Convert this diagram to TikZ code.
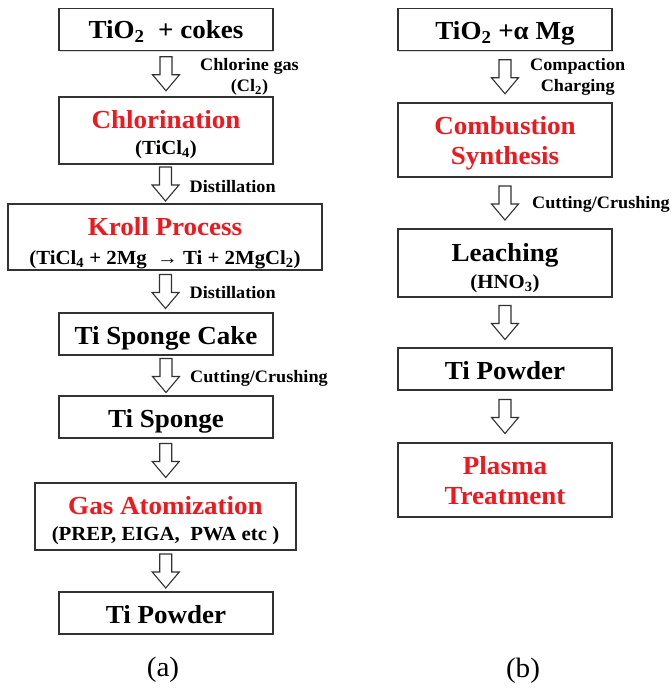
\documentclass[tikz,border=0pt]{standalone}
\usepackage{fontspec}
\setmainfont{Liberation Serif}[FakeStretch=1.04]
\usetikzlibrary{positioning,calc,shadows}

\definecolor{procred}{RGB}{238,24,30}
\definecolor{boxline}{RGB}{50,50,50}
\newcommand{\bigfs}{\fontsize{26}{30}\selectfont\bfseries}
\newcommand{\smallfs}{\fontsize{20}{26}\selectfont\bfseries}
\newcommand{\notefs}{\fontsize{17.5}{21}\selectfont\bfseries}
% two centred lines, baselines #3 apart, baseline of the box = first line
\newcommand{\twolines}[3]{\vtop{\offinterlineskip\halign{\hfil##\hfil\cr\smash{#1}\cr\noalign{\kern#3}\smash{#2}\cr}}}

\tikzset{
  procbox/.style={draw=boxline, line width=1.3pt, fill=white, minimum width=214pt, minimum height=42pt,
    inner sep=0pt, font=\bigfs, text height=20pt, text depth=0pt,
    drop shadow={shadow xshift=1.2pt, shadow yshift=-1.2pt, opacity=0.3}},
  firstbase/.style={text height=0pt, text depth=#1},
  notelbl/.style={font=\notefs, align=center, inner sep=0pt},
  blockarr/.pic={\draw[boxline, line width=1.1pt, fill=white, line join=miter]
    (-6,-17) -- (6,-17) -- (6,1) -- (13.5,1) -- (0,17) -- (-13.5,1) -- (-6,1) -- cycle;}
}

\begin{document}
\begin{tikzpicture}[x=1pt, y=-1pt]
  \useasboundingbox (0,0) rectangle (671,693);

  % (a) chlorination / Kroll route
  \node[procbox, text height=18pt] (a1) at (166,29.5) {TiO\textsubscript{2}~ + cokes};
  \node[procbox, minimum height=67pt, firstbase=4.4pt] (a2) at (166,130.5)
    {\twolines{\textcolor{procred}{Chlorination}}{\smallfs (TiCl\textsubscript{4})}{26pt}};
  \node[procbox, minimum width=314pt, minimum height=66pt, firstbase=4pt] (a3) at (165,237)
    {\twolines{\textcolor{procred}{Kroll Process}}{\smallfs (TiCl\textsubscript{4} + 2Mg~ → Ti + 2MgCl\textsubscript{2})}{29pt}};
  \node[procbox] (a4) at (166,334) {Ti Sponge Cake};
  \node[procbox] (a5) at (166,417) {Ti Sponge};
  \node[procbox, minimum width=261pt, minimum height=67pt, firstbase=5pt] (a6) at (165.5,516.5)
    {\twolines{\textcolor{procred}{Gas Atomization}}{\smallfs (PREP, EIGA,~ PWA etc )}{26pt}};
  \node[procbox] (a7) at (166,613) {Ti Powder};

  \foreach \i/\j in {1/2,2/3,3/4,4/5,5/6,6/7} {
    \coordinate (ga\i) at ($(a\i.south)!0.5!(a\j.north)$);
    \pic at (ga\i) {blockarr};
  }
  \node[notelbl, right=34pt of ga1, yshift=-3pt] (na1) {Chlorine gas\\(Cl\textsubscript{2})};
  \node[notelbl, right=24pt of ga2, yshift=-3pt] (na2) {Distillation};
  \node[notelbl, right=24pt of ga3, yshift=-1.5pt] (na3) {Distillation};
  \node[notelbl, right=24pt of ga4, yshift=-2.5pt] (na4) {Cutting/Crushing};

  % (b) combustion synthesis route
  \node[procbox] (b1) at (505,29.5) {TiO\textsubscript{2} +α Mg};
  \node[procbox, minimum height=74pt, firstbase=11.4pt] (b2) at (505,140)
    {\twolines{\textcolor{procred}{Combustion}}{\textcolor{procred}{Synthesis}}{30pt}};
  \node[procbox, minimum height=68pt, firstbase=4pt] (b3) at (505,263)
    {\twolines{Leaching}{\smallfs (HNO\textsubscript{3})}{27.3pt}};
  \node[procbox] (b4) at (505,369) {Ti Powder};
  \node[procbox, minimum height=74pt, firstbase=11.4pt] (b5) at (505,480)
    {\twolines{\textcolor{procred}{Plasma}}{\textcolor{procred}{Treatment}}{30pt}};

  \foreach \i/\j in {1/2,2/3,3/4,4/5} {
    \coordinate (gb\i) at ($(b\i.south)!0.5!(b\j.north)$);
    \pic at (gb\i) {blockarr};
  }
  \node[notelbl, right=25pt of gb1] (nb1) {Compaction\\Charging};
  \node[notelbl, right=27pt of gb2, yshift=-1pt] (nb2) {Cutting/Crushing};

  \node[font=\fontsize{28}{32}\selectfont] (capa) at (163,670) {(a)};
  \node[font=\fontsize{28}{32}\selectfont] (capb) at (523,671) {(b)};
\end{tikzpicture}
\end{document}
